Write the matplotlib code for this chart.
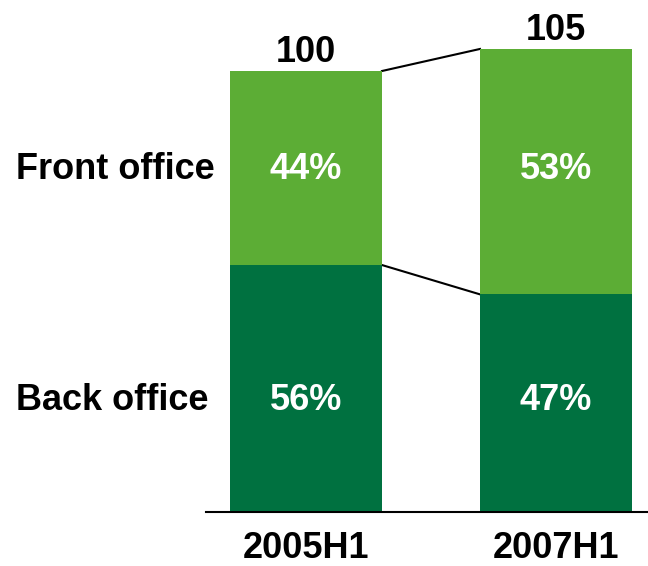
import matplotlib.pyplot as plt

plt.rcParams['font.family'] = ['Liberation Sans', 'DejaVu Sans']

periods = ['2005H1', '2007H1']
totals = [100, 105]
back_share = [56, 47]
front_share = [44, 53]
row_labels = ['Front office', 'Back office']

light_green = '#5CAD35'
dark_green = '#007140'


def main():
    fig = plt.figure(figsize=(6.48, 5.66), dpi=100)
    # axes spans from the baseline up to the top edge, starting where the axis line begins
    ax = fig.add_axes([206 / 648, 54 / 566, 442 / 648, 512 / 566])

    x = [0, 1]
    width = 0.608
    back = [t * s / 100 for t, s in zip(totals, back_share)]
    front = [t * s / 100 for t, s in zip(totals, front_share)]

    ax.bar(x, back, width, color=dark_green, zorder=2)
    ax.bar(x, front, width, bottom=back, color=light_green, zorder=2)

    # connector lines between the two bars
    ax.plot([x[0] + width / 2, x[1] - width / 2], [totals[0], totals[1]],
            color='black', lw=1.5, zorder=1)
    ax.plot([x[0] + width / 2, x[1] - width / 2], [back[0], back[1]],
            color='black', lw=1.5, zorder=1)

    # segment labels sit on common rows
    front_row = sum(b + f / 2 for b, f in zip(back, front)) / len(x)
    back_row = sum(b / 2 for b in back) / len(x) - 1
    for i in range(len(x)):
        ax.text(x[i], front_row, f'{front_share[i]}%', ha='center', va='center',
                color='white', fontsize=26, fontweight='bold')
        ax.text(x[i], back_row, f'{back_share[i]}%', ha='center', va='center',
                color='white', fontsize=26, fontweight='bold')
        ax.annotate(str(totals[i]), (x[i], totals[i]), xytext=(0, 6.5),
                    textcoords='offset points', ha='center', va='baseline',
                    fontsize=26, fontweight='bold')

    for label, yv in zip(row_labels, [front_row, back_row]):
        ax.annotate(label, (0, yv), xycoords=('figure fraction', 'data'),
                    xytext=(16 * 0.72, 0), textcoords='offset points',
                    ha='left', va='center', fontsize=26, fontweight='bold')

    ax.set_xlim(-0.4, 1.368)
    ax.set_ylim(0, 512 / 4.41)
    ax.set_xticks(x)
    ax.set_xticklabels(periods, fontsize=26, fontweight='bold')
    ax.tick_params(axis='x', length=0, pad=14)
    ax.set_yticks([])
    for side in ['top', 'right', 'left']:
        ax.spines[side].set_visible(False)
    ax.spines['bottom'].set_linewidth(1.5)
    ax.patch.set_alpha(0)

    fig.savefig('out.png', dpi=100)


if __name__ == '__main__':
    main()
